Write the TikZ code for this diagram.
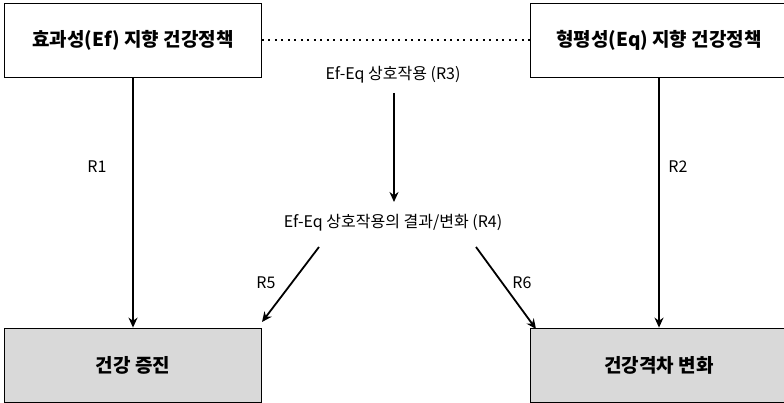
\documentclass[tikz,border=0pt]{standalone}
\usepackage{fontspec}
\setmainfont{Noto Sans CJK KR}
\usetikzlibrary{arrows.meta}
\begin{document}
\begin{tikzpicture}[x=1pt,y=-1pt,
  box/.style={draw=black, line width=0.8pt, minimum width=257pt, minimum height=74pt, inner sep=0pt, font=\fontsize{19}{21}\selectfont\bfseries},
  outbox/.style={box, fill=black!15},
  lbl/.style={font=\fontsize{16}{18}\selectfont, inner sep=1pt},
  arr/.style={-{Stealth[length=10pt,width=9pt]}, line width=1.8pt},
]
\useasboundingbox (0,0) rectangle (784,403);
\node[box] (ef) at (133,40) {효과성(Ef) 지향 건강정책};
\node[box] (eq) at (659,40) {형평성(Eq) 지향 건강정책};
\node[outbox] (hp) at (133,365) {건강 증진};
\node[outbox] (hd) at (659,365) {건강격차 변화};
\node[lbl] (r3) at (393,75) {Ef-Eq 상호작용 (R3)};
\node[lbl] (r4) at (393,223) {Ef-Eq 상호작용의 결과/변화 (R4)};
\draw[line width=1.6pt, dash pattern=on 2pt off 4.5pt] (ef.east) -- (eq.west);
\draw[arr, line width=2pt] (ef.south) -- (hp.north);
\draw[arr, line width=2pt] (eq.south) -- (hd.north);
\node[lbl] (l1) at (97,167) {R1};
\node[lbl] (l2) at (678,167) {R2};
\coordinate (r3b) at (394,93);
\coordinate (r4t) at (394,202);
\draw[arr] (r3b) -- (r4t);
\coordinate (r5a) at (319,247);
\coordinate (r5b) at (262,322);
\draw[arr] (r5a) -- (r5b);
\coordinate (r6a) at (476,247);
\coordinate (r6b) at (536,329);
\draw[arr] (r6a) -- (r6b);
\node[lbl] (l5) at (266,283) {R5};
\node[lbl] (l6) at (522,283) {R6};
\end{tikzpicture}
\end{document}
